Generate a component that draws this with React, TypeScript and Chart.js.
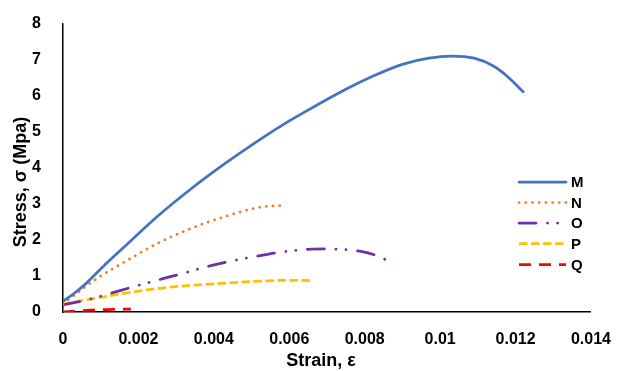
import React, { useEffect, useRef } from "react";
import { Chart, registerables } from "chart.js";

Chart.register(...registerables);

const seriesNames = ["M", "N", "O", "P", "Q"];
const seriesColors = ["#4472C4", "#ED7D31", "#7030A0", "#FFC000", "#FF0000"];

const mStrain = [0, 0.0003, 0.0006, 0.0011, 0.0017, 0.0025, 0.0034, 0.0043, 0.0051, 0.006, 0.0067, 0.0073, 0.0083, 0.009, 0.0097, 0.0103, 0.0109, 0.0114, 0.0118, 0.0122];
const mStress = [0.3, 0.52, 0.78, 1.3, 1.88, 2.65, 3.42, 4.12, 4.7, 5.3, 5.72, 6.07, 6.58, 6.87, 7.04, 7.1, 7.04, 6.83, 6.52, 6.11];

const nStrain = [0, 0.0004, 0.0009, 0.0017, 0.0025, 0.0034, 0.0043, 0.0051, 0.0055, 0.0058];
const nStress = [0.22, 0.55, 0.93, 1.43, 1.9, 2.32, 2.65, 2.88, 2.94, 2.95];

const oStrain = [0, 0.0004, 0.0008, 0.0013, 0.0018, 0.0026, 0.0031, 0.0039, 0.0044, 0.0052, 0.0057, 0.0065, 0.007, 0.0076, 0.0079, 0.0083, 0.0086];
const oStress = [0.2, 0.28, 0.38, 0.53, 0.68, 0.91, 1.05, 1.28, 1.4, 1.56, 1.65, 1.74, 1.75, 1.72, 1.68, 1.57, 1.43];

const pStrain = [0, 0.0008, 0.0017, 0.0025, 0.0034, 0.0043, 0.0051, 0.006, 0.0064, 0.0066];
const pStress = [0.22, 0.37, 0.53, 0.65, 0.74, 0.8, 0.85, 0.88, 0.88, 0.86];

const qStrain = [0, 0.0007, 0.0013, 0.0018];
const qStress = [0, 0.05, 0.07, 0.08];

const xTicks = [0, 0.002, 0.004, 0.006, 0.008, 0.01, 0.012, 0.014];
const yTicks = [0, 1, 2, 3, 4, 5, 6, 7, 8];

const xTitle = "Strain, ε";
const yTitle = "Stress, σ (Mpa)";

const FONT = "'Liberation Sans', Arial, sans-serif";

const dashes: number[][] = [
  [],
  [0.1, 6.6],
  [17, 11.5, 0.1, 10, 0.1, 11.5],
  [8.5, 3.5],
  [12, 8],
];
const caps: CanvasLineCap[] = ["round", "round", "round", "butt", "butt"];

function toPoints(xs: number[], ys: number[]) {
  return xs.map((x, i) => ({ x, y: ys[i] }));
}

const customDraw = {
  id: "customDraw",
  afterDraw(chart: any) {
    const ctx = chart.ctx as CanvasRenderingContext2D;
    ctx.save();
    const rowY = [182, 202.5, 223, 243.5, 264.5];
    chart.data.datasets.forEach((ds: any, i: number) => {
      const y = rowY[i];
      ctx.beginPath();
      ctx.strokeStyle = ds.borderColor;
      ctx.lineWidth = ds.borderWidth;
      ctx.lineCap = ds.borderCapStyle;
      ctx.setLineDash(ds.borderDash || []);
      ctx.moveTo(519, y);
      ctx.lineTo(566, y);
      ctx.stroke();
      ctx.setLineDash([]);
      ctx.fillStyle = "#000";
      ctx.font = `bold 15px ${FONT}`;
      ctx.textAlign = "left";
      ctx.textBaseline = "middle";
      ctx.fillText(ds.label, 571, y + 1);
    });
    ctx.fillStyle = "#000";
    ctx.font = `bold 18px ${FONT}`;
    ctx.textAlign = "center";
    ctx.textBaseline = "middle";
    ctx.fillText(xTitle, 321, 361);
    ctx.translate(21, 182);
    ctx.rotate(-Math.PI / 2);
    ctx.fillText(yTitle, 0, 0);
    ctx.restore();
  },
};

export default function App() {
  const canvasRef = useRef<HTMLCanvasElement | null>(null);

  useEffect(() => {
    document.body.style.margin = "0";
    const canvas = canvasRef.current;
    if (!canvas) return;
    const xs = [mStrain, nStrain, oStrain, pStrain, qStrain];
    const ys = [mStress, nStress, oStress, pStress, qStress];
    const chart = new Chart(canvas, {
      type: "line",
      data: {
        datasets: seriesNames.map((name, i) => ({
          label: name,
          data: toPoints(xs[i], ys[i]),
          borderColor: seriesColors[i],
          backgroundColor: seriesColors[i],
          borderWidth: 2.75,
          borderDash: dashes[i],
          borderCapStyle: caps[i],
          pointRadius: 0,
          pointHoverRadius: 0,
          cubicInterpolationMode: "monotone",
          fill: false,
        })),
      },
      options: {
        animation: false,
        responsive: false,
        maintainAspectRatio: false,
        devicePixelRatio: 1,
        layout: { padding: { top: 20, right: 21, left: 0, bottom: 0 } },
        plugins: {
          legend: { display: false },
          tooltip: { enabled: false },
          title: { display: false },
        },
        scales: {
          x: {
            type: "linear",
            min: 0,
            max: 0.014,
            afterBuildTicks: (scale: any) => {
              scale.ticks = xTicks.map((v) => ({ value: v }));
            },
            afterFit: (scale: any) => {
              scale.height = 59;
            },
            grid: { display: false },
            border: { display: true, color: "#000", width: 1.5 },
            ticks: {
              padding: 10,
              color: "#000",
              font: { family: FONT, size: 16, weight: "bold" },
              callback: (v: any) => String(Number(Number(v).toFixed(3))),
              maxRotation: 0,
            },
          },
          y: {
            type: "linear",
            min: 0,
            max: 8,
            afterBuildTicks: (scale: any) => {
              scale.ticks = yTicks.map((v) => ({ value: v }));
            },
            afterFit: (scale: any) => {
              scale.width = 63;
            },
            grid: { display: false },
            border: { display: true, color: "#000", width: 1.5 },
            ticks: {
              padding: 14,
              color: "#000",
              font: { family: FONT, size: 16, weight: "bold" },
            },
          },
        },
      },
      plugins: [customDraw],
    } as any);
    return () => chart.destroy();
  }, []);

  return (
    <div style={{ width: 621, height: 371, position: "relative" }}>
      <canvas ref={canvasRef} width={621} height={371} style={{ display: "block" }} />
    </div>
  );
}
